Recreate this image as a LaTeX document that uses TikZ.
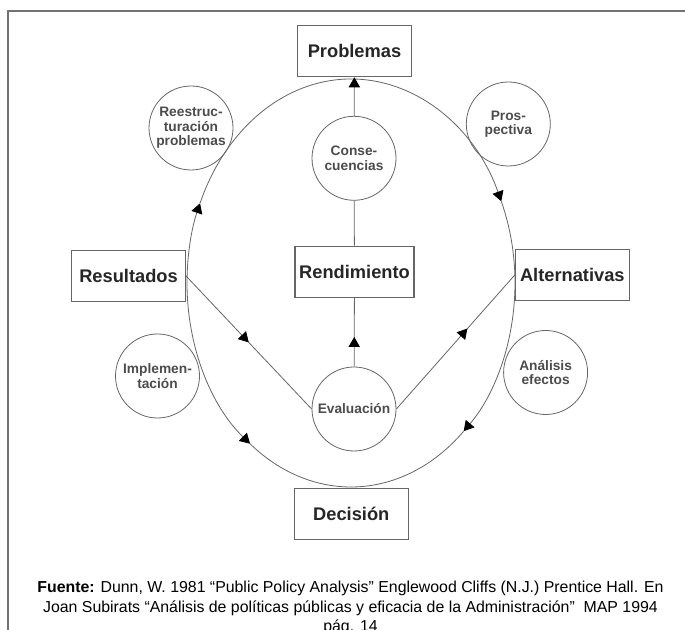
\documentclass[tikz,border=0pt]{standalone}
\usepackage{fontspec}
\setmainfont{Liberation Sans}
\usetikzlibrary{arrows.meta,decorations.markings,calc}
\begin{document}
\begin{tikzpicture}[x=0.75pt,y=0.75pt,
  box/.style={draw=black!60, line width=0.8pt, minimum width=85.5pt, minimum height=38.25pt, inner sep=0pt, font=\fontsize{13.7}{16}\selectfont\bfseries, text=black!85},
  bubble/.style={circle, draw=black!60, line width=0.6pt, minimum size=63pt, inner sep=0pt, align=center, font=\fontsize{10.3}{10.8}\selectfont\bfseries, text=black!70},
  conn/.style={draw=black!60, line width=0.6pt},
  tipA/.style={-{Triangle[length=7.5pt,width=8.5pt,color=black]}},
  midarrow/.style={postaction={decorate}, decoration={markings, mark=at position #1 with {\arrow{Triangle[length=7.5pt,width=8.5pt,color=black]}}}},
  captxt/.style={anchor=base, font=\fontsize{11.9}{14}\selectfont, text=black}
]
\useasboundingbox (0,0) rectangle (685,630);
\fill[white] (0,0) rectangle (685,630);
\begin{scope}
\clip (0,0) rectangle (685,630);
\draw[black!55, line width=1.4pt] (8,-20) -- (8,619.3) -- (700,619.3);
\node[captxt] (cap1) at (350.5,37) {\textbf{Fuente:} Dunn, W. 1981 “Public Policy Analysis” Englewood Cliffs (N.J.) Prentice Hall. En};
\node[captxt] (cap2) at (350.5,17.5) {Joan Subirats “Análisis de políticas públicas y eficacia de la Administración”\ \ MAP 1994};
\node[captxt] (cap3) at (350.5,-2) {pág. 14};
\end{scope}

% boxes
\node[box] (prob) at (354.5,578.7) {Problemas};
\node[box] (res) at (128.5,354) {Resultados};
\node[box, minimum width=89.25pt] (rend) at (354.5,358.3) {Rendimiento};
\node[box] (alt) at (572.3,355) {Alternativas};
\node[box] (dec) at (351.3,116) {Decisión};

% bubbles
\node[bubble] (reest) at (191,502) {Reestruc-\\turación\\problemas};
\node[bubble] (cons) at (354,471.7) {Conse-\\cuencias};
\node[bubble] (pros) at (508.3,506) {Pros-\\pectiva};
\node[bubble] (impl) at (157.5,254) {Implemen-\\tación};
\node[bubble] (eval) at (354,221) {Evaluación};
\node[bubble] (anal) at (545.6,257.5) {Análisis\\efectos};

% cycle (ellipse)
\coordinate (E) at (351,347);
\coordinate (etop) at ($(E)+(90:164 and 204)$);
\coordinate (eright) at ($(E)+(0:164 and 204)$);
\coordinate (ebot) at ($(E)+(270:164 and 204)$);
\coordinate (eleft) at ($(E)+(180:164 and 204)$);

\draw[conn, tipA] (etop) arc[start angle=90, end angle=23.6, x radius=164, y radius=204] coordinate (a1);
\draw[conn] (a1) arc[start angle=23.6, end angle=0, x radius=164, y radius=204];
\draw[conn, tipA] (eright) arc[start angle=0, end angle=-46.6, x radius=164, y radius=204] coordinate (a2);
\draw[conn] (a2) arc[start angle=-46.6, end angle=-90, x radius=164, y radius=204];
\draw[conn, tipA] (eleft) arc[start angle=180, end angle=232, x radius=164, y radius=204] coordinate (a3);
\draw[conn] (a3) arc[start angle=232, end angle=270, x radius=164, y radius=204];
\draw[conn, tipA] (eleft) arc[start angle=180, end angle=157, x radius=164, y radius=204] coordinate (a4);
\draw[conn] (a4) arc[start angle=157, end angle=90, x radius=164, y radius=204];

% inner connectors
\draw[conn, tipA] (cons) -- (prob);
\draw[conn] (cons) -- (rend);
\draw[conn, midarrow=0.43] (eval) -- (rend);
\draw[conn, midarrow=0.5] (res.east) -- (eval.west);
\draw[conn, midarrow=0.6] (eval.east) -- (alt.west);
\end{tikzpicture}
\end{document}
